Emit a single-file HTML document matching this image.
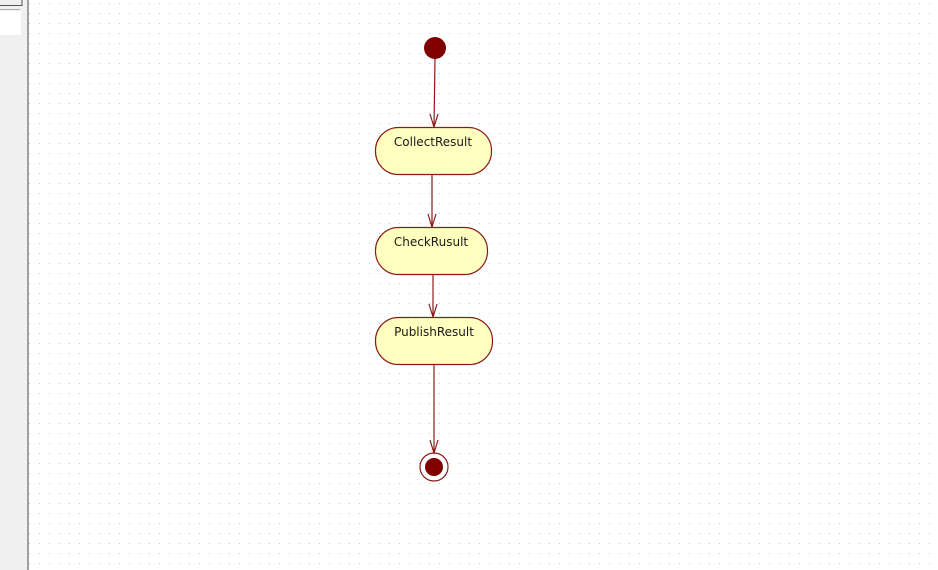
<!DOCTYPE html>
<html><head><style>
body{margin:0;width:938px;height:570px;overflow:hidden;background:#fff;font-family:Tahoma,"DejaVu Sans","Liberation Sans",sans-serif;}
</style></head><body>
<svg width="938" height="570" xmlns="http://www.w3.org/2000/svg" style="position:absolute;left:0;top:0">
<defs>
<pattern id="dots" x="29" y="3" width="10" height="10" patternUnits="userSpaceOnUse">
<rect x="0" y="0" width="1" height="1" fill="#c4c4c4"/>
</pattern>
</defs>
<rect x="28" y="0" width="910" height="570" fill="url(#dots)"/>
<rect x="0" y="0" width="27" height="570" fill="#f0f0f0"/>
<rect x="27" y="0" width="2" height="570" fill="#a0a0a0"/>
<rect x="0" y="11" width="21" height="24" fill="#fff"/>
<rect x="0" y="9" width="20" height="1" fill="#b0b0b0"/>
<path d="M0 5.5H22V0" fill="none" stroke="#555" stroke-width="1"/>
<g stroke="#8b1a1a" fill="none" stroke-width="1.2">
<line x1="435" y1="59" x2="434" y2="127"/>
<path d="M430 114L434 127L438 114"/>
<line x1="432" y1="175" x2="432" y2="227"/>
<path d="M428 214L432 227L436 214"/>
<line x1="433" y1="275" x2="433" y2="317"/>
<path d="M429 304L433 317L437 304"/>
<line x1="434" y1="365" x2="434" y2="453"/>
<path d="M430 440L434 453L438 440"/>
<rect x="375.5" y="127.5" width="116" height="47" rx="23" fill="#ffffc0"/>
<rect x="375.5" y="227.5" width="112" height="47" rx="23" fill="#ffffc0"/>
<rect x="375.5" y="317.5" width="117" height="47" rx="23" fill="#ffffc0"/>
<circle cx="434" cy="467" r="14"/>
</g>
<circle cx="435" cy="48" r="11" fill="#800000"/>
<circle cx="434" cy="467" r="9" fill="#800000"/>
<g font-size="12" fill="#1a1a1a" text-anchor="middle" font-family="Tahoma,'DejaVu Sans','Liberation Sans',sans-serif">
<text x="433" y="146">CollectResult</text>
<text x="431" y="246">CheckRusult</text>
<text x="434" y="336">PublishResult</text>
</g>
</svg>
</body></html>
